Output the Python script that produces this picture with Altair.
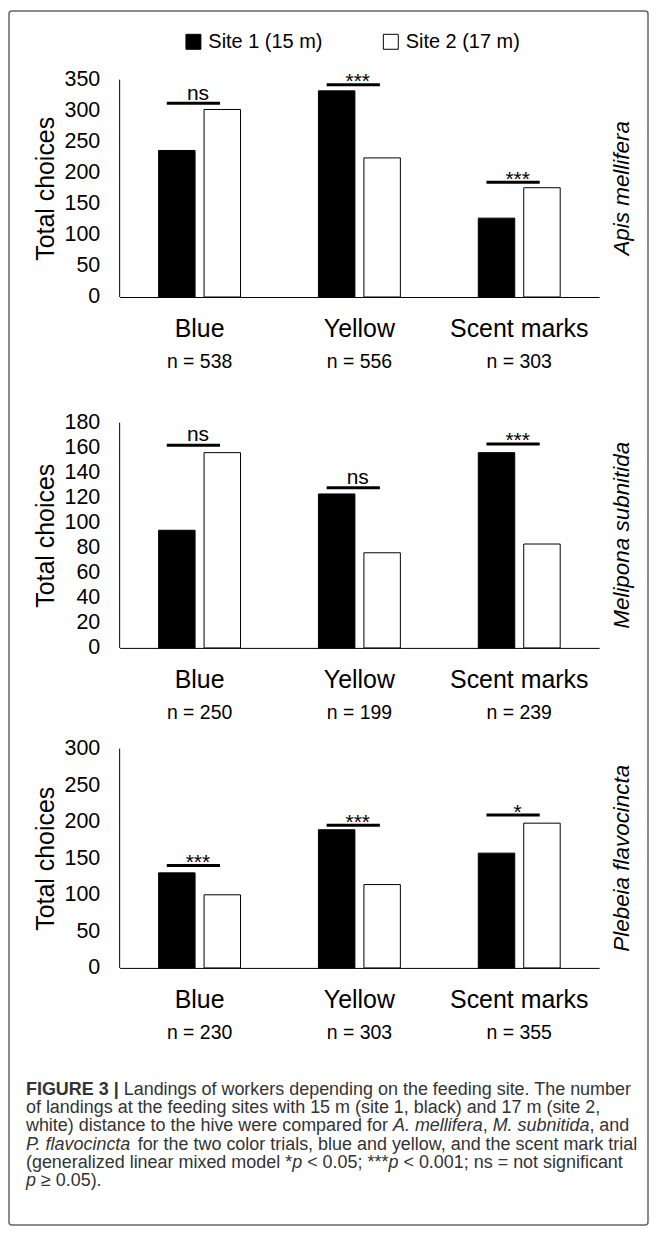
import altair as alt
import pandas as pd

# ---------------- data ----------------
categories = ["Blue", "Yellow", "Scent marks"]
sites = ["Site 1 (15 m)", "Site 2 (17 m)"]
species = ["Apis mellifera", "Melipona subnitida", "Plebeia flavocincta"]

apis_site1 = [236, 332, 127]
apis_site2 = [302, 224, 176]
meli_site1 = [94, 123, 156]
meli_site2 = [156, 76, 83]
pleb_site1 = [130, 189, 157]
pleb_site2 = [100, 114, 198]

apis_n = ["n = 538", "n = 556", "n = 303"]
meli_n = ["n = 250", "n = 199", "n = 239"]
pleb_n = ["n = 230", "n = 303", "n = 355"]

apis_sig = ["ns", "***", "***"]
meli_sig = ["ns", "ns", "***"]
pleb_sig = ["***", "***", "*"]

apis_sig_level = [312, 342, 185]
meli_sig_level = [162, 128, 163]
pleb_sig_level = [140, 195, 209]

apis_ticks = [0, 50, 100, 150, 200, 250, 300, 350]
meli_ticks = [0, 20, 40, 60, 80, 100, 120, 140, 160, 180]
pleb_ticks = [0, 50, 100, 150, 200, 250, 300]

y_title = "Total choices"

caption_lines = [
    [("b", "FIGURE 3 |"), ("r", " Landings of workers depending on the feeding site. The number")],
    [("r", "of landings at the feeding sites with 15 m (site 1, black) and 17 m (site 2,")],
    [("r", "white) distance to the hive were compared for "), ("i", "A. mellifera"), ("r", ", "),
     ("i", "M. subnitida"), ("r", ", and")],
    [("i", "P. flavocincta"), ("r", " for the two color trials, blue and yellow, and the scent mark trial")],
    [("r", "(generalized linear mixed model *"), ("i", "p"), ("r", " < 0.05; ***"), ("i", "p"),
     ("r", " < 0.001; ns = not significant")],
    [("i", "p"), ("r", " \u2265 0.05).")],
]

# ---------------- layout / style ----------------
FONT = "Liberation Sans"
W = 481
SPACING = 101
CAP_SIZE = 18
CAP_X = -94
CAP_Y0 = 26.5
CAP_LH = 18.25

# Arial / Liberation Sans advance widths (1/1000 em)
AW = {" ": 278, "(": 333, ")": 333, "*": 389, ",": 278, ".": 278, ";": 278, "<": 584, "=": 584,
      ">": 584, "|": 260, "\u2265": 549, "A": 667, "B": 667, "E": 667, "F": 611, "G": 778, "I": 278,
      "L": 556, "M": 833, "P": 667, "R": 722, "T": 611, "U": 722,
      "a": 556, "b": 556, "c": 500, "d": 556, "e": 556, "f": 278, "g": 556, "h": 556, "i": 222,
      "j": 222, "k": 500, "l": 222, "m": 833, "n": 556, "o": 556, "p": 556, "q": 556, "r": 333,
      "s": 500, "t": 278, "u": 556, "v": 500, "w": 722, "x": 500, "y": 500, "z": 500}
AWB = {" ": 278, "|": 280, "F": 611, "I": 278, "G": 778, "U": 722, "R": 722, "E": 667}


def tw(s, bold=False):
    tot = 0
    for c in s:
        if c.isdigit():
            tot += 556
        elif bold:
            tot += AWB.get(c, AW.get(c, 556))
        else:
            tot += AW.get(c, 556)
    return tot / 1000 * CAP_SIZE


def panel(s1, s2, nlab, sig, siglev, ticks, sp, data_h, extra_top, first=False):
    ymax = ticks[-1]
    h = data_h + extra_top
    dom_max = ymax * h / data_h
    bars = pd.DataFrame({"cat": categories * 2,
                         "site": [sites[0]] * 3 + [sites[1]] * 3,
                         "value": s1 + s2})
    sigdf = pd.DataFrame({"cat": categories, "sig": sig, "level": siglev})
    ndf = pd.DataFrame({"cat": categories, "n": nlab})
    spdf = pd.DataFrame({"sp": [sp]})
    axdf = pd.DataFrame({"lo": [0], "hi": [ymax]})

    xscale = alt.Scale(domain=categories, paddingInner=0.4875, paddingOuter=0.24375)
    yscale = alt.Scale(domain=[0, dom_max], nice=False, zero=True)

    x_axis = alt.Axis(title=None, labelAngle=0, labelFontSize=25, labelPadding=20,
                      ticks=False, domainColor="black", domainWidth=1,
                      labelColor="black", labelFont=FONT)
    y_axis = alt.Axis(title=y_title, values=ticks, domain=False, ticks=False, grid=False,
                      labelFontSize=21.5, labelPadding=20, labelColor="black",
                      labelOverlap=False, labelFont=FONT,
                      titleFontSize=25, titleFontWeight="normal", titleColor="black",
                      titleFont=FONT, titlePadding=5, titleY=extra_top + data_h / 2)

    if first:
        leg = alt.Legend(title=None, orient="none", legendX=64, legendY=-48,
                         direction="horizontal", symbolType="square", symbolSize=225,
                         symbolStrokeColor="black", symbolStrokeWidth=1,
                         labelFontSize=20, labelFont=FONT, labelColor="black",
                         labelOffset=5, columnPadding=58, padding=0)
    else:
        leg = None

    def xenc(**kw):
        return alt.X("cat:N", scale=xscale, sort=categories, axis=x_axis, title=None, **kw)

    def yenc(field):
        return alt.Y(field, scale=yscale, axis=y_axis, title=y_title)

    bar = alt.Chart(bars).mark_bar(stroke="black", strokeWidth=1).encode(
        x=xenc(),
        xOffset=alt.XOffset("site:N", sort=sites,
                            scale=alt.Scale(domain=sites, paddingInner=0.198, paddingOuter=0)),
        y=yenc("value:Q"),
        fill=alt.Fill("site:N", sort=sites,
                      scale=alt.Scale(domain=sites, range=["black", "white"]), legend=leg),
    )

    axis_line = alt.Chart(axdf).mark_rule(color="black", strokeWidth=1).encode(
        x=alt.value(0),
        y=yenc("lo:Q"),
        y2="hi:Q",
    )

    rule = alt.Chart(sigdf).mark_rule(strokeWidth=3, color="black").encode(
        x=xenc(bandPosition=0.1),
        x2=alt.X2("cat", bandPosition=0.75),
        y=yenc("level:Q"),
    )

    ns_text = alt.Chart(sigdf).transform_filter(alt.datum.sig == "ns").mark_text(
        fontSize=21, baseline="alphabetic", dy=-3.7, font=FONT, color="black").encode(
        x=xenc(bandPosition=0.48),
        y=yenc("level:Q"),
        text="sig:N",
    )
    star_text = alt.Chart(sigdf).transform_filter(alt.datum.sig != "ns").mark_text(
        fontSize=21, baseline="alphabetic", dy=3.5, font=FONT, color="black").encode(
        x=xenc(bandPosition=0.48),
        y=yenc("level:Q"),
        text="sig:N",
    )

    n_text = alt.Chart(ndf).mark_text(fontSize=19.5, baseline="alphabetic", font=FONT,
                                      color="black").encode(
        x=xenc(),
        y=alt.value(h + 71),
        text="n:N",
    )

    sp_text = alt.Chart(spdf).mark_text(angle=270, fontSize=22.5, fontStyle="italic", font=FONT,
                                        align="center", baseline="middle", color="black").encode(
        x=alt.value(W + 23),
        y=alt.value(extra_top + data_h / 2),
        text="sp:N",
    )

    layers = [bar, axis_line, rule, ns_text, star_text, n_text, sp_text]
    if first:
        frame = alt.Chart(spdf).mark_rect(fill="transparent", stroke="#666666", strokeWidth=1.5,
                                          cornerRadius=3).encode(
            x=alt.value(-111), x2=alt.value(530), y=alt.value(-69), y2=alt.value(1149))
        layers.append(frame)
    return alt.layer(*layers).properties(width=W, height=h)


p1 = panel(apis_site1, apis_site2, apis_n, apis_sig, apis_sig_level, apis_ticks, species[0], 218, 0, first=True)
p2 = panel(meli_site1, meli_site2, meli_n, meli_sig, meli_sig_level, meli_ticks, species[1], 226, 25)
p3 = panel(pleb_site1, pleb_site2, pleb_n, pleb_sig, pleb_sig_level, pleb_ticks, species[2], 220, 0)

# caption
rows = []
for i, segs in enumerate(caption_lines):
    x = CAP_X
    for style, txt in segs:
        lead = len(txt) - len(txt.lstrip(" "))
        x0 = x + tw(" " * lead, style == "b")
        rows.append({"t": txt.strip(), "style": style, "px": x0, "py": CAP_Y0 + i * CAP_LH})
        x += tw(txt, style == "b")
capdf = pd.DataFrame(rows)

def cap_layer(style, **kw):
    return alt.Chart(capdf).transform_filter(alt.datum.style == style).mark_text(
        align="left", baseline="alphabetic", fontSize=CAP_SIZE, font=FONT, color="#333333", **kw
    ).encode(
        x=alt.X("px:Q", scale=None, axis=None),
        y=alt.Y("py:Q", scale=None, axis=None),
        text="t:N",
    )

caption = alt.layer(
    cap_layer("r"),
    cap_layer("b", fontWeight="bold"),
    cap_layer("i", fontStyle="italic"),
).properties(width=W, height=130)

chart = alt.vconcat(p1, p2, p3, caption, spacing=SPACING, bounds="flush").properties(
    padding=0, background="white"
).configure_view(stroke=None).configure_axis(labelFont=FONT, titleFont=FONT)

chart.save("out.html", embed_options={"renderer": "svg", "actions": False})
